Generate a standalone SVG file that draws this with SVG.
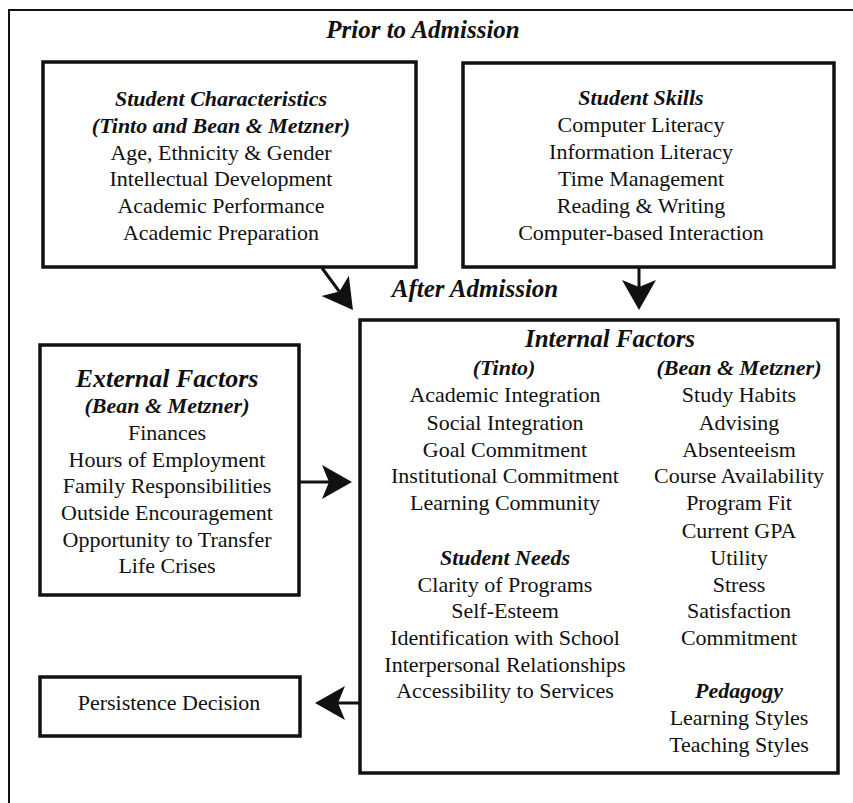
<svg xmlns="http://www.w3.org/2000/svg" width="853" height="803" viewBox="0 0 853 803">
<style>
text{font-family:"Liberation Serif","Times New Roman",serif;fill:#111;text-anchor:middle;font-size:22px}
.h{font-weight:bold;font-style:italic}
.big{font-size:25px}
.box{fill:#fff;stroke:#111;stroke-width:3.5}
.frame{fill:none;stroke:#111;stroke-width:2}
.conn{stroke:#111;stroke-width:3;fill:none;marker-end:url(#ah)}
</style>
<defs>
<marker id="ah" markerUnits="userSpaceOnUse" markerWidth="32" markerHeight="34" refX="7" refY="17" orient="auto" overflow="visible">
<path d="M0,0 L30,17 L0,34 L7,17 Z" fill="#111"/>
</marker>
</defs>
<rect width="853" height="803" fill="#fff"/>
<g id="frame">
<path class="frame" d="M9,803 V10 H853"/>
<text class="h big" x="423" y="38">Prior to Admission</text>
<text class="h big" x="475" y="297">After Admission</text>
</g>
<g id="student-characteristics">
<rect class="box" x="43" y="62" width="373" height="205"/>
<text class="h" x="221" y="106">Student Characteristics</text>
<text class="h" x="221" y="133">(Tinto and Bean &amp; Metzner)</text>
<text x="221" y="160">Age, Ethnicity &amp; Gender</text>
<text x="221" y="186">Intellectual Development</text>
<text x="221" y="213">Academic Performance</text>
<text x="221" y="240">Academic Preparation</text>
</g>
<g id="student-skills">
<rect class="box" x="463" y="63" width="371" height="204"/>
<text class="h" x="641" y="105">Student Skills</text>
<text x="641" y="132">Computer Literacy</text>
<text x="641" y="159">Information Literacy</text>
<text x="641" y="186">Time Management</text>
<text x="641" y="213">Reading &amp; Writing</text>
<text x="641" y="240">Computer-based Interaction</text>
</g>
<g id="external-factors">
<rect class="box" x="40" y="345" width="259" height="250"/>
<text class="h" x="167" y="387" style="font-size:26px">External Factors</text>
<text class="h" x="167" y="413">(Bean &amp; Metzner)</text>
<text x="167" y="440">Finances</text>
<text x="167" y="467">Hours of Employment</text>
<text x="167" y="493">Family Responsibilities</text>
<text x="167" y="520">Outside Encouragement</text>
<text x="167" y="547">Opportunity to Transfer</text>
<text x="167" y="573">Life Crises</text>
</g>
<g id="persistence-decision">
<rect class="box" x="40" y="677" width="260" height="59"/>
<text x="169" y="710">Persistence Decision</text>
</g>
<g id="internal-factors">
<rect class="box" x="360" y="320" width="478" height="453"/>
<text class="h big" x="610" y="347">Internal Factors</text>
<text class="h" x="504" y="375">(Tinto)</text>
<text x="505" y="402">Academic Integration</text>
<text x="505" y="430">Social Integration</text>
<text x="505" y="457">Goal Commitment</text>
<text x="505" y="483">Institutional Commitment</text>
<text x="505" y="510">Learning Community</text>
<text class="h" x="505" y="565">Student Needs</text>
<text x="505" y="592">Clarity of Programs</text>
<text x="505" y="618">Self-Esteem</text>
<text x="505" y="645">Identification with School</text>
<text x="505" y="672">Interpersonal Relationships</text>
<text x="505" y="698">Accessibility to Services</text>
<text class="h" x="739" y="375">(Bean &amp; Metzner)</text>
<text x="739" y="402">Study Habits</text>
<text x="739" y="430">Advising</text>
<text x="739" y="457">Absenteeism</text>
<text x="739" y="483">Course Availability</text>
<text x="739" y="510">Program Fit</text>
<text x="739" y="538">Current GPA</text>
<text x="739" y="565">Utility</text>
<text x="739" y="592">Stress</text>
<text x="739" y="618">Satisfaction</text>
<text x="739" y="645">Commitment</text>
<text class="h" x="739" y="698">Pedagogy</text>
<text x="739" y="725">Learning Styles</text>
<text x="739" y="752">Teaching Styles</text>
</g>
<g id="connectors">
<line class="conn" x1="322" y1="268" x2="339.3" y2="291.5"/>
<line class="conn" x1="639" y1="268" x2="639" y2="287"/>
<line class="conn" x1="300" y1="482" x2="329" y2="482"/>
<line class="conn" x1="359" y1="703" x2="338" y2="703"/>
</g>
</svg>
